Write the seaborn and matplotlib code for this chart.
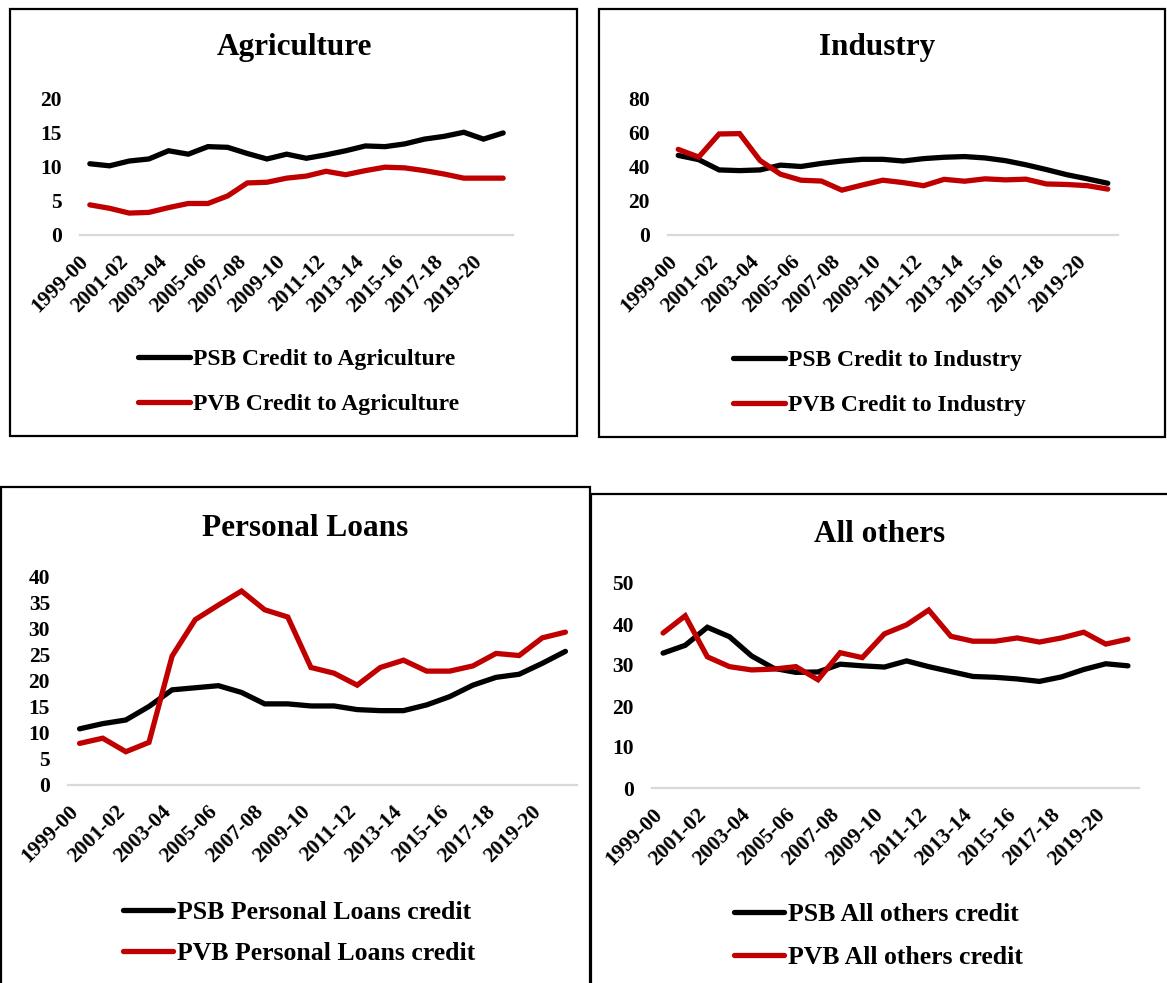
import matplotlib
matplotlib.use("Agg")
import matplotlib.pyplot as plt
import matplotlib.transforms as mtransforms
import pandas as pd
import seaborn as sns
from matplotlib.patches import Rectangle

# ---------------- data ----------------
years = ["1999-00", "2000-01", "2001-02", "2002-03", "2003-04", "2004-05",
         "2005-06", "2006-07", "2007-08", "2008-09", "2009-10", "2010-11",
         "2011-12", "2012-13", "2013-14", "2014-15", "2015-16", "2016-17",
         "2017-18", "2018-19", "2019-20", "2020-21"]

agri_psb = [10.4, 10.1, 10.8, 11.1, 12.3, 11.8, 12.9, 12.8, 11.9, 11.1, 11.8,
            11.2, 11.7, 12.3, 13.0, 12.9, 13.3, 14.0, 14.4, 15.0, 14.0, 14.9]
agri_pvb = [4.4, 3.9, 3.2, 3.3, 4.0, 4.6, 4.6, 5.7, 7.6, 7.7, 8.3,
            8.6, 9.3, 8.8, 9.4, 9.9, 9.8, 9.4, 8.9, 8.3, 8.3, 8.3]
ind_psb = [46.5, 44.0, 38.0, 37.6, 38.0, 40.8, 40.0, 41.8, 43.2, 44.2, 44.2,
           43.2, 44.6, 45.4, 45.8, 45.0, 43.4, 41.0, 38.2, 35.2, 32.8, 30.2]
ind_pvb = [50.0, 45.5, 59.0, 59.2, 43.5, 35.5, 32.0, 31.5, 26.2, 29.2, 32.0,
           30.6, 28.8, 32.5, 31.4, 32.8, 32.2, 32.6, 29.8, 29.5, 28.8, 26.8]
pl_psb = [10.8, 11.8, 12.5, 15.1, 18.3, 18.7, 19.1, 17.8, 15.6, 15.6, 15.2,
          15.2, 14.5, 14.3, 14.3, 15.4, 17.0, 19.2, 20.7, 21.3, 23.4, 25.7]
pl_pvb = [8.0, 9.0, 6.4, 8.2, 24.8, 31.8, 34.6, 37.3, 33.7, 32.3, 22.6,
          21.5, 19.2, 22.6, 24.0, 21.9, 21.9, 22.9, 25.3, 24.9, 28.3, 29.4]
oth_psb = [32.9, 34.8, 39.2, 36.9, 32.2, 29.2, 28.2, 28.3, 30.2, 29.8, 29.5,
           31.0, 29.6, 28.4, 27.2, 27.0, 26.6, 26.0, 27.1, 28.9, 30.3, 29.8]
oth_pvb = [37.8, 42.0, 32.0, 29.6, 28.8, 29.0, 29.6, 26.4, 33.0, 31.8, 37.6,
           39.8, 43.4, 37.0, 35.8, 35.8, 36.6, 35.6, 36.6, 38.0, 35.1, 36.3]

titles = ["Agriculture", "Industry", "Personal Loans", "All others"]
psb_labels = ["PSB Credit to Agriculture", "PSB Credit to Industry",
              "PSB Personal Loans credit", "PSB All others credit"]
pvb_labels = ["PVB Credit to Agriculture", "PVB Credit to Industry",
              "PVB Personal Loans credit", "PVB All others credit"]
y_max = [20, 80, 40, 50]
y_step = [5, 20, 5, 10]

# ---------------- style ----------------
sns.set_style("white")
plt.rcParams["font.family"] = ["Liberation Serif", "DejaVu Serif"]
plt.rcParams["font.weight"] = "bold"
plt.rcParams["text.color"] = "black"
plt.rcParams["xtick.color"] = "black"
plt.rcParams["ytick.color"] = "black"

W, H = 1167, 983
fig = plt.figure(figsize=(W / 100, H / 100), dpi=100)

BLACK = "#000000"
RED = "#C00000"

# layout in pixels (left, right, top, bottom of plot area)
plot_px = [(80, 513, 98, 235), (668, 1118, 98, 235),
           (68, 577, 577, 785), (652, 1139, 583, 788)]
box_px = [(10, 577, 9, 436), (599, 1165, 9, 437),
          (1, 590, 487, 990), (591, 1175, 494, 990)]
title_px = [(294, 48), (877, 48), (305, 528), (880, 534)]
legend_px = [(138, 382), (733, 383), (123, 933), (734, 936)]
legend_size = [17, 17, 18.5, 18.5]
legend_hlen = [2.2, 2.2, 1.95, 1.95]
legend_space = [1.0, 1.0, 0.7, 0.75]

series = [(agri_psb, agri_pvb), (ind_psb, ind_pvb), (pl_psb, pl_pvb), (oth_psb, oth_pvb)]
# offset of rotated category labels below the axis line (in pixels: left, down)
lab_offset = mtransforms.ScaledTranslation(-4 / 100, -24 / 100, fig.dpi_scale_trans)

for i in range(4):
    # panel border
    bl, br, bt, bb = box_px[i]
    fig.patches.append(Rectangle((bl / W, 1 - bb / H), (br - bl) / W, (bb - bt) / H,
                                 transform=fig.transFigure, fill=False,
                                 edgecolor="black", linewidth=1.6, zorder=0))
    l, r, t, b = plot_px[i]
    ax = fig.add_axes([l / W, 1 - b / H, (r - l) / W, (b - t) / H])
    psb, pvb = series[i]
    df = pd.DataFrame({
        "idx": list(range(len(years))) * 2,
        "value": psb + pvb,
        "series": [psb_labels[i]] * len(years) + [pvb_labels[i]] * len(years),
    })
    sns.lineplot(data=df, x="idx", y="value", hue="series",
                 palette=[BLACK, RED], linewidth=3.8, ax=ax, legend=False,
                 solid_capstyle="round", solid_joinstyle="miter")
    ax.set_xlim(-0.5, len(years) - 0.5)
    ax.set_ylim(0, y_max[i])
    ax.set_yticks(list(range(0, y_max[i] + 1, y_step[i])))
    ax.set_xticks(list(range(0, len(years), 2)))
    ax.set_xticklabels([])
    # category labels, rotated 45 degrees, right end at the category position
    xform = mtransforms.blended_transform_factory(ax.transData, ax.transAxes) + lab_offset
    for k in range(0, len(years), 2):
        ax.text(k, 0, years[k], transform=xform, rotation=45,
                rotation_mode="anchor", ha="right", va="center",
                fontsize=15.5, fontweight="bold", clip_on=False)
    for lab in ax.get_yticklabels():
        lab.set_fontsize(15.5)
        lab.set_fontweight("bold")
    ax.tick_params(axis="both", length=0)
    ax.tick_params(axis="y", pad=13)
    ax.set_xlabel("")
    ax.set_ylabel("")
    for s in ["top", "right", "left"]:
        ax.spines[s].set_visible(False)
    ax.spines["bottom"].set_color("#D9D9D9")
    ax.spines["bottom"].set_linewidth(1.6)
    ax.spines["bottom"].set_zorder(0)
    ax.set_facecolor("none")

    # title
    tx, ty = title_px[i]
    fig.text(tx / W, 1 - ty / H, titles[i], ha="center", va="center",
             fontsize=22.5, fontweight="bold")

    # legend
    lx, ly = legend_px[i]
    handles = ax.get_lines()[:2]
    ax.legend(handles, [psb_labels[i], pvb_labels[i]], loc="center left",
              bbox_to_anchor=(lx / W, 1 - ly / H), bbox_transform=fig.transFigure,
              frameon=False, borderpad=0, borderaxespad=0,
              handlelength=legend_hlen[i], handletextpad=0.15,
              labelspacing=legend_space[i],
              prop={"size": legend_size[i], "weight": "bold"})

fig.savefig("out.png", dpi=100)
